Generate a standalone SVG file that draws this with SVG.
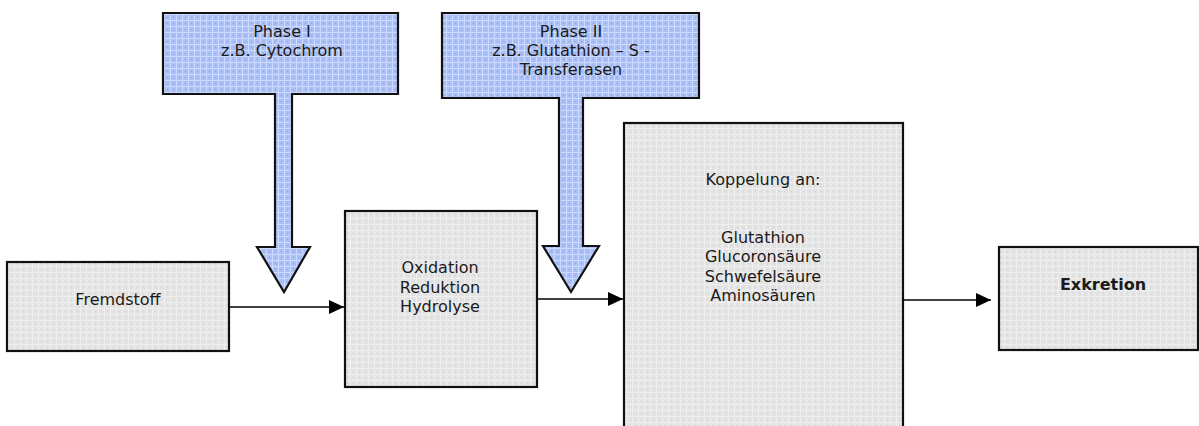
<svg xmlns="http://www.w3.org/2000/svg" width="1199" height="426" viewBox="0 0 1199 426">
<style>
text{font-family:"DejaVu Sans",Verdana,sans-serif;font-size:16px;fill:#1a1a1a;text-anchor:middle}
.box{fill:url(#gray);stroke:#111;stroke-width:2.2}
.phase{fill:url(#blue);stroke:#111;stroke-width:2.2;stroke-linejoin:miter}
.conn{stroke:#000;stroke-width:1.6;fill:none;marker-end:url(#ah)}
.b{font-weight:bold}
</style>
<defs>
<pattern id="gray" width="6" height="6" patternUnits="userSpaceOnUse">
<rect width="6" height="6" fill="#e3e3e3"/>
<rect x="0" y="2" width="6" height="1" fill="#efefef"/>
<rect x="2" y="0" width="1" height="6" fill="#efefef"/>
<rect x="5" y="5" width="1" height="1" fill="#d4d4d4"/>
</pattern>
<pattern id="blue" width="6" height="6" patternUnits="userSpaceOnUse">
<rect width="6" height="6" fill="#a9bff6"/>
<rect x="0" y="2" width="6" height="1" fill="#ccdaff"/>
<rect x="2" y="0" width="1" height="6" fill="#ccdaff"/>
<rect x="5" y="5" width="1" height="1" fill="#88a4ef"/>
</pattern>
<marker id="ah" markerUnits="userSpaceOnUse" markerWidth="16" markerHeight="16" viewBox="0 0 16 16" refX="15" refY="8" orient="auto">
<path d="M0,1 L15,8 L0,15 z" fill="#000"/>
</marker>
</defs>
<g id="phase1">
<path class="phase" d="M163,13 H398 V94 H292 V247 H310 L284,292 L257,247 H275 V94 H163 Z"/>
<text x="282" y="37">Phase I</text>
<text x="282" y="56">z.B. Cytochrom</text>
</g>
<g id="phase2">
<path class="phase" d="M442,13 H699 V98 H583 V246 H599 L571,292 L543,246 H559 V98 H442 Z"/>
<text x="571" y="37">Phase II</text>
<text x="571" y="56">z.B. Glutathion – S -</text>
<text x="571" y="75">Transferasen</text>
</g>
<g id="fremdstoff">
<rect class="box" x="7" y="262" width="222" height="89"/>
<text x="118" y="305">Fremdstoff</text>
</g>
<g id="reaktionen">
<rect class="box" x="345" y="211" width="192" height="176"/>
<text x="440" y="273">Oxidation</text>
<text x="440" y="293">Reduktion</text>
<text x="440" y="312">Hydrolyse</text>
</g>
<g id="koppelung">
<rect class="box" x="624" y="123" width="279" height="320"/>
<text x="763" y="185">Koppelung an:</text>
<text x="763" y="243">Glutathion</text>
<text x="763" y="262">Glucoronsäure</text>
<text x="763" y="282">Schwefelsäure</text>
<text x="763" y="301">Aminosäuren</text>
</g>
<g id="exkretion">
<rect class="box" x="999" y="247" width="199" height="103"/>
<text class="b" x="1103" y="290">Exkretion</text>
</g>
<g id="connectors">
<line class="conn" x1="229" y1="307" x2="344" y2="307"/>
<line class="conn" x1="537" y1="299" x2="623" y2="299"/>
<line class="conn" x1="903" y1="300" x2="991" y2="300"/>
</g>
</svg>
